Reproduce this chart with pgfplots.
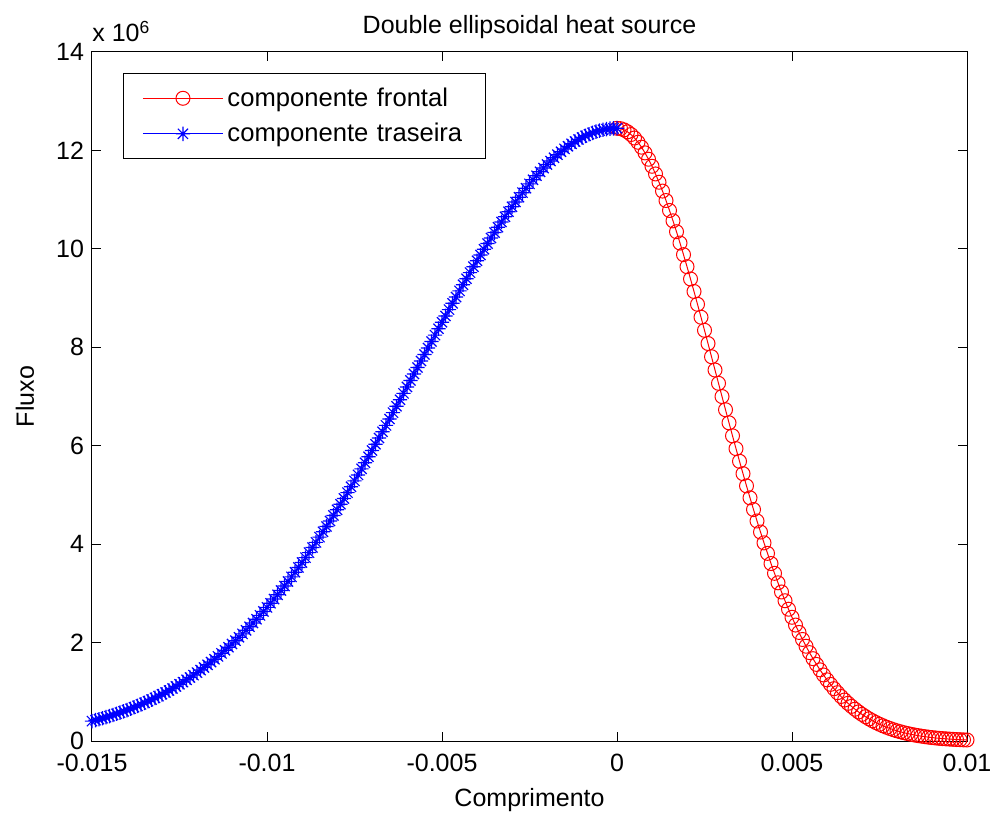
\documentclass[border=0pt]{standalone}
\usepackage{fontspec}
\setmainfont{Liberation Sans}
\usepackage{pgfplots}
\usepackage{pgfplotstable}
\pgfplotsset{compat=1.18}
\newcommand\f{\fontsize{12.5}{15}\selectfont}
\newcommand\fl{\fontsize{12.8}{15}\selectfont}
\pgfdeclareplotmark{mstar}{%
  \pgfpathmoveto{\pgfpoint{-\pgfplotmarksize}{0pt}}\pgfpathlineto{\pgfpoint{\pgfplotmarksize}{0pt}}%
  \pgfpathmoveto{\pgfpoint{0pt}{-\pgfplotmarksize}}\pgfpathlineto{\pgfpoint{0pt}{\pgfplotmarksize}}%
  \pgfpathmoveto{\pgfpoint{-0.7071\pgfplotmarksize}{-0.7071\pgfplotmarksize}}\pgfpathlineto{\pgfpoint{0.7071\pgfplotmarksize}{0.7071\pgfplotmarksize}}%
  \pgfpathmoveto{\pgfpoint{-0.7071\pgfplotmarksize}{0.7071\pgfplotmarksize}}\pgfpathlineto{\pgfpoint{0.7071\pgfplotmarksize}{-0.7071\pgfplotmarksize}}%
  \pgfusepathqstroke}

\pgfplotstableread{
x y
0.0000 12.450
0.0001 12.442
0.0002 12.418
0.0003 12.378
0.0004 12.323
0.0005 12.252
0.0006 12.166
0.0007 12.066
0.0008 11.950
0.0009 11.821
0.0010 11.678
0.0011 11.522
0.0012 11.354
0.0013 11.174
0.0014 10.982
0.0015 10.780
0.0016 10.569
0.0017 10.348
0.0018 10.118
0.0019 9.882
0.0020 9.638
0.0021 9.388
0.0022 9.134
0.0023 8.874
0.0024 8.611
0.0025 8.345
0.0026 8.077
0.0027 7.808
0.0028 7.538
0.0029 7.268
0.0030 6.999
0.0031 6.731
0.0032 6.465
0.0033 6.201
0.0034 5.941
0.0035 5.684
0.0036 5.432
0.0037 5.184
0.0038 4.941
0.0039 4.703
0.0040 4.471
0.0041 4.246
0.0042 4.026
0.0043 3.813
0.0044 3.606
0.0045 3.407
0.0046 3.214
0.0047 3.028
0.0048 2.850
0.0049 2.678
0.0050 2.514
0.0051 2.356
0.0052 2.206
0.0053 2.063
0.0054 1.926
0.0055 1.796
0.0056 1.673
0.0057 1.556
0.0058 1.446
0.0059 1.342
0.0060 1.243
0.0061 1.151
0.0062 1.063
0.0063 0.982
0.0064 0.905
0.0065 0.833
0.0066 0.766
0.0067 0.704
0.0068 0.646
0.0069 0.591
0.0070 0.541
0.0071 0.494
0.0072 0.451
0.0073 0.411
0.0074 0.374
0.0075 0.340
0.0076 0.309
0.0077 0.280
0.0078 0.254
0.0079 0.229
0.0080 0.207
0.0081 0.187
0.0082 0.168
0.0083 0.152
0.0084 0.136
0.0085 0.122
0.0086 0.110
0.0087 0.098
0.0088 0.088
0.0089 0.078
0.0090 0.070
0.0091 0.062
0.0092 0.055
0.0093 0.049
0.0094 0.044
0.0095 0.039
0.0096 0.034
0.0097 0.030
0.0098 0.027
0.0099 0.023
0.0100 0.021
}\front

\pgfplotstableread{
x y
0.0000 12.450
-0.0001 12.448
-0.0002 12.442
-0.0003 12.433
-0.0004 12.420
-0.0005 12.403
-0.0006 12.382
-0.0007 12.357
-0.0008 12.329
-0.0009 12.297
-0.0010 12.262
-0.0011 12.223
-0.0012 12.180
-0.0013 12.134
-0.0014 12.084
-0.0015 12.031
-0.0016 11.974
-0.0017 11.914
-0.0018 11.851
-0.0019 11.784
-0.0020 11.714
-0.0021 11.641
-0.0022 11.565
-0.0023 11.486
-0.0024 11.404
-0.0025 11.320
-0.0026 11.232
-0.0027 11.142
-0.0028 11.049
-0.0029 10.953
-0.0030 10.855
-0.0031 10.755
-0.0032 10.652
-0.0033 10.547
-0.0034 10.440
-0.0035 10.331
-0.0036 10.220
-0.0037 10.107
-0.0038 9.992
-0.0039 9.876
-0.0040 9.758
-0.0041 9.638
-0.0042 9.517
-0.0043 9.394
-0.0044 9.271
-0.0045 9.146
-0.0046 9.020
-0.0047 8.893
-0.0048 8.765
-0.0049 8.637
-0.0050 8.508
-0.0051 8.378
-0.0052 8.247
-0.0053 8.117
-0.0054 7.985
-0.0055 7.854
-0.0056 7.722
-0.0057 7.590
-0.0058 7.459
-0.0059 7.327
-0.0060 7.195
-0.0061 7.064
-0.0062 6.933
-0.0063 6.802
-0.0064 6.672
-0.0065 6.542
-0.0066 6.413
-0.0067 6.284
-0.0068 6.156
-0.0069 6.029
-0.0070 5.903
-0.0071 5.777
-0.0072 5.653
-0.0073 5.530
-0.0074 5.407
-0.0075 5.286
-0.0076 5.166
-0.0077 5.047
-0.0078 4.929
-0.0079 4.812
-0.0080 4.697
-0.0081 4.584
-0.0082 4.471
-0.0083 4.360
-0.0084 4.251
-0.0085 4.143
-0.0086 4.036
-0.0087 3.931
-0.0088 3.828
-0.0089 3.726
-0.0090 3.626
-0.0091 3.527
-0.0092 3.430
-0.0093 3.335
-0.0094 3.241
-0.0095 3.149
-0.0096 3.059
-0.0097 2.970
-0.0098 2.884
-0.0099 2.798
-0.0100 2.715
-0.0101 2.633
-0.0102 2.553
-0.0103 2.474
-0.0104 2.398
-0.0105 2.322
-0.0106 2.249
-0.0107 2.177
-0.0108 2.107
-0.0109 2.039
-0.0110 1.972
-0.0111 1.906
-0.0112 1.843
-0.0113 1.781
-0.0114 1.720
-0.0115 1.661
-0.0116 1.604
-0.0117 1.548
-0.0118 1.493
-0.0119 1.441
-0.0120 1.389
-0.0121 1.339
-0.0122 1.290
-0.0123 1.243
-0.0124 1.197
-0.0125 1.153
-0.0126 1.109
-0.0127 1.067
-0.0128 1.027
-0.0129 0.987
-0.0130 0.949
-0.0131 0.912
-0.0132 0.876
-0.0133 0.842
-0.0134 0.808
-0.0135 0.776
-0.0136 0.744
-0.0137 0.714
-0.0138 0.685
-0.0139 0.656
-0.0140 0.629
-0.0141 0.603
-0.0142 0.577
-0.0143 0.553
-0.0144 0.529
-0.0145 0.506
-0.0146 0.484
-0.0147 0.463
-0.0148 0.443
-0.0149 0.423
-0.0150 0.404
}\rear

\begin{document}
\begin{tikzpicture}
\path[use as bounding box] (-46pt,-36.5pt) rectangle (453.5pt,370.5pt);
\begin{axis}[
  scale only axis,
  width=437.5pt, height=344.5pt,
  xmin=-0.015, xmax=0.01, ymin=0, ymax=14,
  clip=false,
  scaled x ticks=false, scaled y ticks=false,
  xtick={-0.015,-0.01,-0.005,0,0.005,0.01},
  xticklabels={-0.015,-0.01,-0.005,0,0.005,0.01},
  ytick={0,2,4,6,8,10,12,14},
  yticklabels={0,2,4,6,8,10,12,14},
  tick align=inside,
  major tick length=4.5pt,
  tick style={black, line width=0.5pt},
  axis line style={black, line width=0.5pt},
  tick label style={font=\f},
  xticklabel style={yshift=-3pt},
  yticklabel style={xshift=-0.5pt},
  title={Double ellipsoidal heat source},
  title style={font=\f, at={(axis description cs:0.5,1)}, anchor=center, yshift=6.5pt},
  xlabel={Comprimento},
  ylabel={Fluxo},
  xlabel style={font=\f, at={(axis description cs:0.5,-0.0856)}, anchor=center},
  ylabel style={font=\f, at={(axis description cs:-0.0766,0.5)}, anchor=center},
  legend style={font=\fl, at={(axis description cs:0.0354,0.9695)}, anchor=north west,
    draw=black, line width=0.5pt, inner xsep=9.5pt, inner ysep=5pt, row sep=3pt,
    cells={anchor=west, align=left}, text width=117.5pt},
  legend image code/.code={%
    \draw[mark repeat=2,mark phase=2] plot coordinates {(0pt,0pt) (20pt,0pt) (40pt,0pt)};},
]
\addplot[color=red, line width=0.5pt, mark=o, mark size=3.5pt,
  mark options={solid, line width=0.5pt}] table[x=x,y=y] {\front};
\addlegendentry{componente frontal}
\addplot[color=blue, line width=0.5pt, mark=mstar, mark size=3.6pt,
  mark options={solid, line width=0.6pt}] table[x=x,y=y] {\rear};
\addlegendentry{componente traseira}
\node[anchor=base west, inner sep=0pt, font=\f] at ([yshift=5pt]rel axis cs:0,1) {x 10\textsuperscript{6}};
\end{axis}
\end{tikzpicture}
\end{document}
